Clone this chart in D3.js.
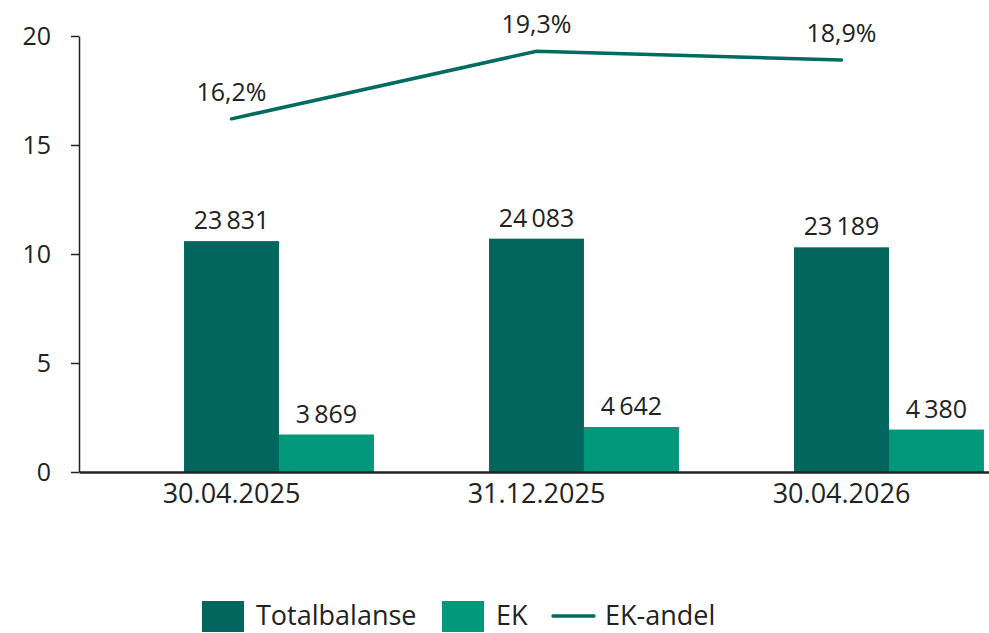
<!DOCTYPE html>
<html><head><meta charset="utf-8">
<script src="https://cdn.jsdelivr.net/npm/d3@7"></script>
<style>body{margin:0;background:#fff}svg{display:block}text{font-family:"Open Sans",sans-serif;fill:#222}</style>
</head><body>
<svg id="c" width="989" height="633"></svg>
<script>
const categories = ["30.04.2025", "31.12.2025", "30.04.2026"];
const totalbalanse = [23831, 24083, 23189];
const ek = [3869, 4642, 4380];
const ekAndel = [16.2, 19.3, 18.9];
const yTicks = [0, 5, 10, 15, 20];

const svg = d3.select("#c");
const x0 = 79, x1 = 994, yTop = 36, yBot = 472;
const fs = 25, fsL = 27;
const ff = "'Open Sans', sans-serif";

const x = d3.scaleBand().domain(categories).range([x0, x1]).paddingInner(0.066).paddingOuter(0.033);
const slots = d3.scaleBand().domain(["_", "Totalbalanse", "EK"]).range([0, x.bandwidth()]);
const y = d3.scaleLinear().domain([0, 20]).range([yBot, yTop]);
const yBar = d3.scaleLinear().domain([0, 45000]).range([yBot, yTop]);

const fmt = v => d3.format(",")(v).replace(/,/g, "\u2009");
const pct = v => d3.format(".1f")(v).replace(".", ",") + "%";

const colTot = "#02665e", colEk = "#00977a", colLine = "#006b5f";

// bars
const series = [["Totalbalanse", totalbalanse, colTot], ["EK", ek, colEk]];
series.forEach(([name, vals, col]) => {
  svg.append("g").selectAll("rect").data(vals).join("rect")
    .attr("x", (d, i) => x(categories[i]) + slots(name))
    .attr("width", slots.bandwidth())
    .attr("y", d => yBar(d))
    .attr("height", d => yBot - yBar(d))
    .attr("fill", col);
  svg.append("g").selectAll("text").data(vals).join("text")
    .attr("x", (d, i) => x(categories[i]) + slots(name) + slots.bandwidth() / 2)
    .attr("y", d => yBar(d) - 12)
    .attr("text-anchor", "middle").attr("font-size", fs)
    .text(d => fmt(d));
});

// y axis
const ya = svg.append("g").attr("transform", `translate(${x0},0)`)
  .call(d3.axisLeft(y).tickValues(yTicks).tickSize(8).tickPadding(20).tickSizeOuter(0));
ya.select(".domain").attr("stroke", "#222").attr("stroke-width", 1.5);
ya.selectAll(".tick line").attr("stroke", "#222").attr("stroke-width", 1.5);
ya.selectAll(".tick text").attr("font-size", fs).attr("font-family", ff).attr("fill", "#222");

// x axis
const xa = svg.append("g").attr("transform", `translate(0,${yBot})`)
  .call(d3.axisBottom(x).tickSize(0).tickPadding(12).tickSizeOuter(0));
xa.select(".domain").attr("stroke", "#222").attr("stroke-width", 2.5);
xa.selectAll(".tick text").attr("font-size", fsL).attr("font-family", ff).attr("fill", "#222");

// line
const cx = i => x(categories[i]) + x.bandwidth() / 2;
const line = d3.line().x((d, i) => cx(i)).y(d => y(d));
svg.append("path").datum(ekAndel).attr("d", line)
  .attr("fill", "none").attr("stroke", colLine).attr("stroke-width", 3.5).attr("stroke-linecap", "round");
svg.append("g").selectAll("text").data(ekAndel).join("text")
  .attr("x", (d, i) => cx(i)).attr("y", d => y(d) - 18)
  .attr("text-anchor", "middle").attr("font-size", fs).text(d => pct(d));

// legend
const lg = svg.append("g");
const items = [["Totalbalanse", colTot, "rect", 202], ["EK", colEk, "rect", 442], ["EK-andel", colLine, "line", 553]];
items.forEach(([name, col, type, lx]) => {
  if (type === "rect") lg.append("rect").attr("x", lx).attr("y", 601).attr("width", 42).attr("height", 31).attr("fill", col);
  else lg.append("line").attr("x1", lx).attr("x2", lx + 41).attr("y1", 616).attr("y2", 616).attr("stroke", col).attr("stroke-width", 3.5).attr("stroke-linecap", "round");
  lg.append("text").attr("x", lx + (type === "rect" ? 54 : 52)).attr("y", 625).attr("font-size", fsL).text(name);
});
</script>
</body></html>
